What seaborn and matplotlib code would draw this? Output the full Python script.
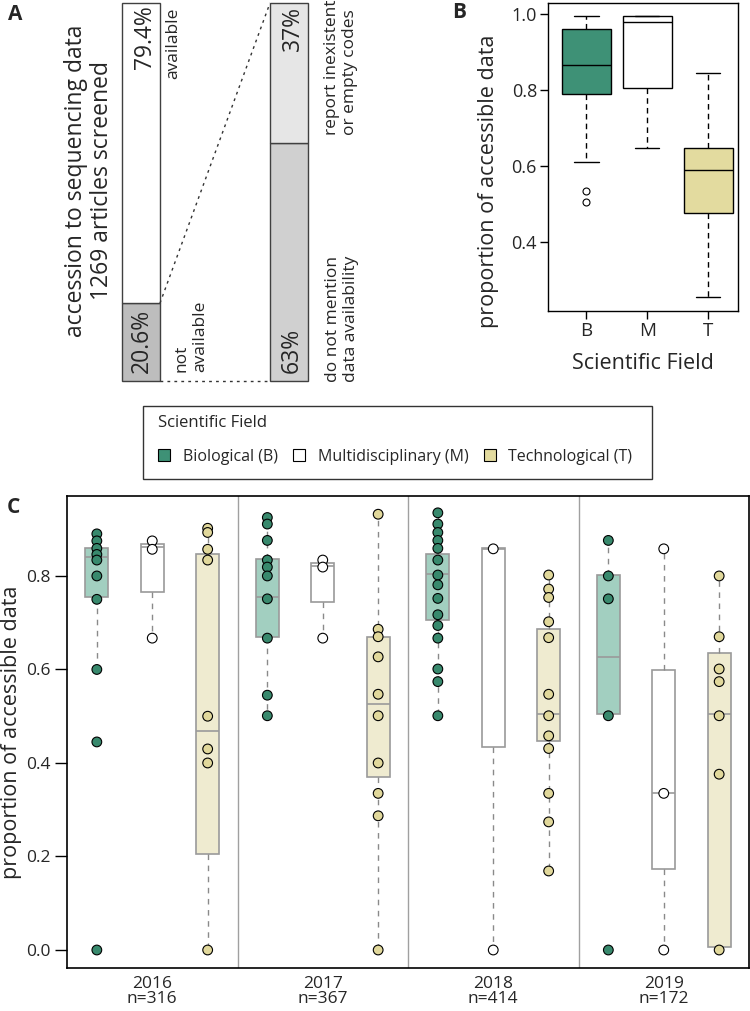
import matplotlib
matplotlib.use("Agg")
import matplotlib.pyplot as plt
from matplotlib.patches import Patch, Rectangle
import seaborn as sns
import pandas as pd

# ---------------- data ----------------
# panel A: accession to sequencing data (% of screened articles)
n_screened = 1269
avail_labels = ["not\navailable", "available"]
avail_pct = [20.6, 79.4]
missing_labels = ["do not mention\ndata availability", "report inexistent\nor empty codes"]
missing_pct = [63, 37]

# panel B: box summaries per scientific field
fields = ["B", "M", "T"]
field_names = ["Biological (B)", "Multidisciplinary (M)", "Technological (T)"]
b_lo = [0.61, 0.648, 0.255]
b_q1 = [0.79, 0.805, 0.475]
b_med = [0.865, 0.98, 0.59]
b_q3 = [0.96, 0.995, 0.648]
b_hi = [0.995, 0.995, 0.845]
b_out = [[0.535, 0.505], [], []]

# panel C: per year
years = ["2016", "2017", "2018", "2019"]
n_year = [316, 367, 414, 172]

cB_lo = [0.60, 0.501, 0.501, 0.504]
cB_q1 = [0.754, 0.670, 0.706, 0.504]
cB_med = [0.841, 0.754, 0.804, 0.627]
cB_q3 = [0.859, 0.836, 0.847, 0.802]
cB_hi = [0.89, 0.925, 0.935, 0.876]

cM_lo = [0.667, 0.667, 0.0, 0.0]
cM_q1 = [0.765, 0.745, 0.434, 0.173]
cM_med = [0.861, 0.821, 0.857, 0.335]
cM_q3 = [0.868, 0.828, 0.859, 0.599]
cM_hi = [0.875, 0.834, 0.858, 0.858]

cT_lo = [0.0, 0.0, 0.169, 0.007]
cT_q1 = [0.205, 0.371, 0.446, 0.007]
cT_med = [0.468, 0.526, 0.504, 0.504]
cT_q3 = [0.847, 0.670, 0.686, 0.636]
cT_hi = [0.902, 0.932, 0.802, 0.80]

cB_pts = [
    [0.89, 0.875, 0.859, 0.846, 0.834, 0.80, 0.75, 0.60, 0.445, 0.0],
    [0.925, 0.911, 0.876, 0.834, 0.819, 0.80, 0.751, 0.667, 0.545, 0.501],
    [0.935, 0.911, 0.893, 0.876, 0.859, 0.834, 0.802, 0.781, 0.752, 0.717,
     0.694, 0.667, 0.601, 0.574, 0.501],
    [0.876, 0.80, 0.751, 0.501, 0.0],
]
cM_pts = [
    [0.875, 0.857, 0.667],
    [0.834, 0.819, 0.667],
    [0.858, 0.0],
    [0.858, 0.335, 0.0],
]
cT_pts = [
    [0.902, 0.893, 0.857, 0.834, 0.50, 0.43, 0.40, 0.0],
    [0.932, 0.686, 0.670, 0.627, 0.547, 0.501, 0.40, 0.335, 0.287, 0.0],
    [0.802, 0.772, 0.754, 0.702, 0.668, 0.547, 0.501, 0.458, 0.431, 0.335,
     0.274, 0.169],
    [0.80, 0.670, 0.601, 0.574, 0.501, 0.376, 0.0],
]

# ---------------- style ----------------
sns.set_style("ticks")
plt.rcParams["font.family"] = ["Open Sans", "DejaVu Sans"]

box_colors = {"B": "#3e9176", "M": "#ffffff", "T": "#e3db9f"}
light_colors = {"B": "#a2cfc0", "M": "#ffffff", "T": "#efebd0"}
point_colors = {"B": "#38896d", "M": "#ffffff", "T": "#e1d89b"}

W, H = 750, 1011
fig = plt.figure(figsize=(W / 100, H / 100), dpi=100)


def px_axes(l, t, r, b):
    return fig.add_axes([l / W, 1 - b / H, (r - l) / W, (b - t) / H])


# ---------------- panel A ----------------
axA = px_axes(0, 3, 440, 381)
axA.set_xlim(0, 440)
axA.set_ylim(0, 100)
axA.axis("off")
edge = "#404040"
xl, xr, bw = 141, 289, 38
axA.bar(xl, avail_pct[0], width=bw, color="#bdbdbd", edgecolor=edge, lw=1, clip_on=False)
axA.bar(xl, avail_pct[1], bottom=avail_pct[0], width=bw, color="white", edgecolor=edge, lw=1, clip_on=False)
axA.bar(xr, missing_pct[0], width=bw, color="#d0d0d0", edgecolor=edge, lw=1, clip_on=False)
axA.bar(xr, missing_pct[1], bottom=missing_pct[0], width=bw, color="#e6e6e6", edgecolor=edge, lw=1, clip_on=False)
axA.plot([xl + bw / 2, xr - bw / 2], [avail_pct[0], 100], ls=(0, (2, 3)), color="#333333", lw=1, clip_on=False)
axA.plot([xl + bw / 2, xr - bw / 2], [0, 0], ls=(0, (2, 3)), color="#333333", lw=1, clip_on=False)

axA.text(89, 53, f"accession to sequencing data\n{n_screened} articles screened",
         rotation=90, ha="center", va="center", fontsize=16.5, linespacing=1.15)
axA.text(xl + 4, 99.3, f"{avail_pct[1]}%", rotation=90, ha="center", va="top", fontsize=16.5)
axA.text(173, 98.9, avail_labels[1], rotation=90, ha="center", va="top", fontsize=12.5)
axA.text(xl + 1, avail_pct[0] - 1.6, f"{avail_pct[0]}%", rotation=90, ha="center", va="top", fontsize=16.5)
axA.text(191, 2.3, avail_labels[0], rotation=90, ha="center", va="bottom", fontsize=12.5,
         multialignment="left", linespacing=1.2)
axA.text(xr + 4, 99.3, f"{missing_pct[1]}%", rotation=90, ha="center", va="top", fontsize=16.5)
axA.text(341, missing_pct[0] + 2, missing_labels[1], rotation=90, ha="center", va="bottom",
         fontsize=12.5, multialignment="left", linespacing=1.2)
axA.text(xr + 3, 2.1, f"{missing_pct[0]}%", rotation=90, ha="center", va="bottom", fontsize=16.5)
axA.text(342, -0.3, missing_labels[0], rotation=90, ha="center", va="bottom",
         fontsize=12.5, multialignment="left", linespacing=1.2)

# ---------------- panel B ----------------
axB = px_axes(548, 3, 738, 311)
statsB = [dict(whislo=b_lo[i], q1=b_q1[i], med=b_med[i], q3=b_q3[i], whishi=b_hi[i],
               fliers=b_out[i]) for i in range(len(fields))]
bpB = axB.bxp(statsB, positions=[1, 2, 3], widths=0.8, capwidths=0.4, patch_artist=True,
              boxprops=dict(edgecolor="black", lw=1),
              whiskerprops=dict(color="black", lw=1, ls=(0, (4, 3))),
              capprops=dict(color="black", lw=1),
              medianprops=dict(color="black", lw=1),
              flierprops=dict(marker="o", mfc="none", mec="black", ms=5, mew=0.8))
for patch, f in zip(bpB["boxes"], fields):
    patch.set_facecolor(box_colors[f])
axB.set_xlim(0.37, 3.49)
axB.set_ylim(0.218, 1.029)
axB.set_yticks([0.4, 0.6, 0.8, 1.0])
axB.set_yticklabels(["0.4", "0.6", "0.8", "1.0"], fontsize=13)
axB.set_xticks([1, 2, 3])
axB.set_xticklabels(fields, fontsize=13.5)
axB.tick_params(length=6, width=1, pad=2, color="black")
axB.set_ylabel("proportion of accessible data", fontsize=15.5)
axB.yaxis.set_label_coords(-0.258, 0.42)
axB.set_xlabel("Scientific Field", fontsize=15.5, labelpad=9)
for s in axB.spines.values():
    s.set_color("black")
    s.set_linewidth(1)

# ---------------- legend ----------------
handles = [Patch(facecolor=box_colors[f], edgecolor="black", lw=0.8) for f in fields]
fig.legend(handles, field_names, loc="upper left", bbox_to_anchor=(158 / W, 1 - 415 / H),
           ncol=3, frameon=False, title="Scientific Field", alignment="left",
           fontsize=11.5, title_fontsize=12, handlelength=0.75, handleheight=0.75,
           handletextpad=0.8, columnspacing=0.95, borderpad=0, borderaxespad=0,
           labelspacing=1.1)
fig.add_artist(Rectangle((143 / W, 1 - 479 / H), (652 - 143) / W, (479 - 406) / H,
                         transform=fig.transFigure, fill=False, edgecolor="#333333", lw=1))

# ---------------- panel C ----------------
axC = px_axes(67, 496, 749, 968)
offset = {"B": -0.325, "M": 0.0, "T": 0.325}
c_stats = {
    "B": (cB_lo, cB_q1, cB_med, cB_q3, cB_hi),
    "M": (cM_lo, cM_q1, cM_med, cM_q3, cM_hi),
    "T": (cT_lo, cT_q1, cT_med, cT_q3, cT_hi),
}
for f in fields:
    lo, q1, med, q3, hi = c_stats[f]
    st = [dict(whislo=lo[g], q1=q1[g], med=med[g], q3=q3[g], whishi=hi[g], fliers=[])
          for g in range(len(years))]
    bp = axC.bxp(st, positions=[g + offset[f] for g in range(len(years))], widths=0.135,
                 patch_artist=True, showcaps=False, showfliers=False,
                 boxprops=dict(edgecolor="#9a9a9a", lw=1.2),
                 whiskerprops=dict(color="#8a8a8a", lw=1, ls=(0, (4, 4))),
                 medianprops=dict(color="#9a9a9a", lw=1.2))
    for patch in bp["boxes"]:
        patch.set_facecolor(light_colors[f])

rows = []
for f, pts in zip(fields, [cB_pts, cM_pts, cT_pts]):
    for g, vals in enumerate(pts):
        for v in vals:
            rows.append({"field": f, "year": years[g], "xpos": g + offset[f], "value": v})
df = pd.DataFrame(rows)

sns.stripplot(data=df, x="xpos", y="value", hue="field", hue_order=fields,
              palette=point_colors, native_scale=True, jitter=False, dodge=False,
              size=7, edgecolor="black", linewidth=0.8, legend=False, ax=axC,
              orient="x", zorder=3)

for g in range(1, len(years)):
    axC.axvline(g - 0.5, color="#a0a0a0", lw=1, zorder=1)

axC.set_xlim(-0.5, len(years) - 0.5)
axC.set_ylim(-0.0385, 0.971)
axC.set_yticks([0.0, 0.2, 0.4, 0.6, 0.8])
axC.set_yticklabels(["0.0", "0.2", "0.4", "0.6", "0.8"], fontsize=12.5)
axC.set_xticks(range(len(years)))
axC.set_xticklabels([f"{y}\nn={n}" for y, n in zip(years, n_year)], fontsize=12.5)
for t in axC.get_xticklabels():
    t.set_linespacing(0.85)
axC.tick_params(axis="y", length=8.5, width=1, pad=3.5, color="black")
axC.tick_params(axis="x", length=0, pad=6)
axC.set_xlabel("")
axC.set_ylabel("proportion of accessible data", fontsize=15.5, labelpad=3)
for s in axC.spines.values():
    s.set_color("black")
    s.set_linewidth(1.2)

# panel letters
fig.text(8 / W, 1 - 4 / H, "A", fontsize=15, weight="bold", va="top")
fig.text(452 / W, 1 - 2 / H, "B", fontsize=15, weight="bold", va="top")
fig.text(7 / W, 1 - 497 / H, "C", fontsize=15, weight="bold", va="top")

fig.savefig("out.png", dpi=100)
